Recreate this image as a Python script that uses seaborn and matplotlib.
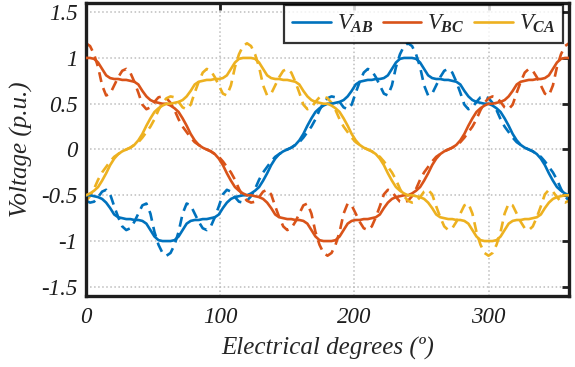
import numpy as np
import pandas as pd
import matplotlib
matplotlib.use('Agg')
import matplotlib.pyplot as plt
import seaborn as sns

# sample positions (electrical degrees, 3 deg step)
degrees = np.arange(0, 361, 3)

# filtered (solid) line voltages
vab_filtered = [
    -0.50, -0.50, -0.51, -0.52, -0.54, -0.58, -0.64, -0.71, -0.74, -0.75,
    -0.76, -0.76, -0.77, -0.77, -0.78, -0.81, -0.88, -0.95, -0.99, -1.00,
    -1.00, -1.00, -0.99, -0.95, -0.88, -0.81, -0.78, -0.77, -0.77, -0.76,
    -0.76, -0.75, -0.74, -0.71, -0.64, -0.58, -0.54, -0.52, -0.51, -0.50,
    -0.50, -0.48, -0.45, -0.41, -0.34, -0.26, -0.17, -0.10, -0.05, -0.02,
    0.00, 0.02, 0.05, 0.10, 0.17, 0.26, 0.34, 0.41, 0.45, 0.48,
    0.50, 0.50, 0.51, 0.52, 0.54, 0.58, 0.64, 0.71, 0.74, 0.75,
    0.76, 0.76, 0.77, 0.77, 0.78, 0.81, 0.88, 0.95, 0.99, 1.00,
    1.00, 1.00, 0.99, 0.95, 0.88, 0.81, 0.78, 0.77, 0.77, 0.76,
    0.76, 0.75, 0.74, 0.71, 0.64, 0.58, 0.54, 0.52, 0.51, 0.50,
    0.50, 0.48, 0.45, 0.41, 0.34, 0.26, 0.17, 0.10, 0.05, 0.02,
    0.00, -0.02, -0.05, -0.10, -0.17, -0.26, -0.34, -0.41, -0.45, -0.48,
    -0.50]
vbc_filtered = [
    1.00, 1.00, 0.99, 0.95, 0.88, 0.81, 0.78, 0.77, 0.77, 0.76,
    0.76, 0.75, 0.74, 0.71, 0.64, 0.58, 0.54, 0.52, 0.51, 0.50,
    0.50, 0.48, 0.45, 0.41, 0.34, 0.26, 0.17, 0.10, 0.05, 0.02,
    0.00, -0.02, -0.05, -0.10, -0.17, -0.26, -0.34, -0.41, -0.45, -0.48,
    -0.50, -0.50, -0.51, -0.52, -0.54, -0.58, -0.64, -0.71, -0.74, -0.75,
    -0.76, -0.76, -0.77, -0.77, -0.78, -0.81, -0.88, -0.95, -0.99, -1.00,
    -1.00, -1.00, -0.99, -0.95, -0.88, -0.81, -0.78, -0.77, -0.77, -0.76,
    -0.76, -0.75, -0.74, -0.71, -0.64, -0.58, -0.54, -0.52, -0.51, -0.50,
    -0.50, -0.48, -0.45, -0.41, -0.34, -0.26, -0.17, -0.10, -0.05, -0.02,
    0.00, 0.02, 0.05, 0.10, 0.17, 0.26, 0.34, 0.41, 0.45, 0.48,
    0.50, 0.50, 0.51, 0.52, 0.54, 0.58, 0.64, 0.71, 0.74, 0.75,
    0.76, 0.76, 0.77, 0.77, 0.78, 0.81, 0.88, 0.95, 0.99, 1.00,
    1.00]
vca_filtered = [
    -0.50, -0.48, -0.45, -0.41, -0.34, -0.26, -0.17, -0.10, -0.05, -0.02,
    0.00, 0.02, 0.05, 0.10, 0.17, 0.26, 0.34, 0.41, 0.45, 0.48,
    0.50, 0.50, 0.51, 0.52, 0.54, 0.58, 0.64, 0.71, 0.74, 0.75,
    0.76, 0.76, 0.77, 0.77, 0.78, 0.81, 0.88, 0.95, 0.99, 1.00,
    1.00, 1.00, 0.99, 0.95, 0.88, 0.81, 0.78, 0.77, 0.77, 0.76,
    0.76, 0.75, 0.74, 0.71, 0.64, 0.58, 0.54, 0.52, 0.51, 0.50,
    0.50, 0.48, 0.45, 0.41, 0.34, 0.26, 0.17, 0.10, 0.05, 0.02,
    0.00, -0.02, -0.05, -0.10, -0.17, -0.26, -0.34, -0.41, -0.45, -0.48,
    -0.50, -0.50, -0.51, -0.52, -0.54, -0.58, -0.64, -0.71, -0.74, -0.75,
    -0.76, -0.76, -0.77, -0.77, -0.78, -0.81, -0.88, -0.95, -0.99, -1.00,
    -1.00, -1.00, -0.99, -0.95, -0.88, -0.81, -0.78, -0.77, -0.77, -0.76,
    -0.76, -0.75, -0.74, -0.71, -0.64, -0.58, -0.54, -0.52, -0.51, -0.50,
    -0.50]

# unfiltered (dashed) line voltages
vab_raw = [
    -0.56, -0.58, -0.57, -0.52, -0.46, -0.44, -0.49, -0.62, -0.74, -0.84,
    -0.88, -0.86, -0.79, -0.70, -0.61, -0.59, -0.70, -0.90, -1.04, -1.13,
    -1.16, -1.13, -1.04, -0.90, -0.70, -0.59, -0.61, -0.70, -0.79, -0.86,
    -0.88, -0.84, -0.74, -0.62, -0.49, -0.44, -0.46, -0.52, -0.57, -0.58,
    -0.56, -0.51, -0.43, -0.33, -0.25, -0.19, -0.13, -0.08, -0.05, -0.02,
    0.00, 0.02, 0.05, 0.08, 0.13, 0.19, 0.25, 0.33, 0.43, 0.51,
    0.56, 0.58, 0.57, 0.52, 0.46, 0.44, 0.49, 0.62, 0.74, 0.84,
    0.88, 0.86, 0.79, 0.70, 0.61, 0.59, 0.70, 0.90, 1.04, 1.13,
    1.16, 1.13, 1.04, 0.90, 0.70, 0.59, 0.61, 0.70, 0.79, 0.86,
    0.88, 0.84, 0.74, 0.62, 0.49, 0.44, 0.46, 0.52, 0.57, 0.58,
    0.56, 0.51, 0.43, 0.33, 0.25, 0.19, 0.13, 0.08, 0.05, 0.02,
    0.00, -0.02, -0.05, -0.08, -0.13, -0.19, -0.25, -0.33, -0.43, -0.51,
    -0.56]
vbc_raw = [
    1.16, 1.13, 1.04, 0.90, 0.70, 0.59, 0.61, 0.70, 0.79, 0.86,
    0.88, 0.84, 0.74, 0.62, 0.49, 0.44, 0.46, 0.52, 0.57, 0.58,
    0.56, 0.51, 0.43, 0.33, 0.25, 0.19, 0.13, 0.08, 0.05, 0.02,
    0.00, -0.02, -0.05, -0.08, -0.13, -0.19, -0.25, -0.33, -0.43, -0.51,
    -0.56, -0.58, -0.57, -0.52, -0.46, -0.44, -0.49, -0.62, -0.74, -0.84,
    -0.88, -0.86, -0.79, -0.70, -0.61, -0.59, -0.70, -0.90, -1.04, -1.13,
    -1.16, -1.13, -1.04, -0.90, -0.70, -0.59, -0.61, -0.70, -0.79, -0.86,
    -0.88, -0.84, -0.74, -0.62, -0.49, -0.44, -0.46, -0.52, -0.57, -0.58,
    -0.56, -0.51, -0.43, -0.33, -0.25, -0.19, -0.13, -0.08, -0.05, -0.02,
    0.00, 0.02, 0.05, 0.08, 0.13, 0.19, 0.25, 0.33, 0.43, 0.51,
    0.56, 0.58, 0.57, 0.52, 0.46, 0.44, 0.49, 0.62, 0.74, 0.84,
    0.88, 0.86, 0.79, 0.70, 0.61, 0.59, 0.70, 0.90, 1.04, 1.13,
    1.16]
vca_raw = [
    -0.56, -0.51, -0.43, -0.33, -0.25, -0.19, -0.13, -0.08, -0.05, -0.02,
    0.00, 0.02, 0.05, 0.08, 0.13, 0.19, 0.25, 0.33, 0.43, 0.51,
    0.56, 0.58, 0.57, 0.52, 0.46, 0.44, 0.49, 0.62, 0.74, 0.84,
    0.88, 0.86, 0.79, 0.70, 0.61, 0.59, 0.70, 0.90, 1.04, 1.13,
    1.16, 1.13, 1.04, 0.90, 0.70, 0.59, 0.61, 0.70, 0.79, 0.86,
    0.88, 0.84, 0.74, 0.62, 0.49, 0.44, 0.46, 0.52, 0.57, 0.58,
    0.56, 0.51, 0.43, 0.33, 0.25, 0.19, 0.13, 0.08, 0.05, 0.02,
    0.00, -0.02, -0.05, -0.08, -0.13, -0.19, -0.25, -0.33, -0.43, -0.51,
    -0.56, -0.58, -0.57, -0.52, -0.46, -0.44, -0.49, -0.62, -0.74, -0.84,
    -0.88, -0.86, -0.79, -0.70, -0.61, -0.59, -0.70, -0.90, -1.04, -1.13,
    -1.16, -1.13, -1.04, -0.90, -0.70, -0.59, -0.61, -0.70, -0.79, -0.86,
    -0.88, -0.84, -0.74, -0.62, -0.49, -0.44, -0.46, -0.52, -0.57, -0.58,
    -0.56]

phase_labels = [r'$\mathit{V}_{\mathbf{AB}}$', r'$\mathit{V}_{\mathbf{BC}}$', r'$\mathit{V}_{\mathbf{CA}}$']
phase_colors = ['#0072BD', '#D95319', '#EDB120']
x_ticks = [0, 100, 200, 300]
y_ticks = [-1.5, -1, -0.5, 0, 0.5, 1, 1.5]
y_tick_labels = ['-1.5', '-1', '-0.5', '0', '0.5', '1', '1.5']

sns.set_style('white')
plt.rcParams['font.family'] = ['Liberation Serif', 'DejaVu Serif']
plt.rcParams['font.style'] = 'italic'
plt.rcParams['mathtext.fontset'] = 'custom'
plt.rcParams['mathtext.rm'] = 'Liberation Serif'
plt.rcParams['mathtext.it'] = 'Liberation Serif:italic'
plt.rcParams['mathtext.bf'] = 'Liberation Serif:italic:bold'

fig = plt.figure(figsize=(5.75, 3.67), dpi=100)
ax = fig.add_axes([0.1496, 0.1935, 0.8400, 0.7983])

filtered = [vab_filtered, vbc_filtered, vca_filtered]
raw = [vab_raw, vbc_raw, vca_raw]

handles = []
for vals, col in zip(raw, phase_colors):
    sns.lineplot(x=degrees, y=vals, ax=ax, color=col, linewidth=1.9,
                 dashes=False, linestyle=(0, (3.8, 2.4)), zorder=2)
for vals, col in zip(filtered, phase_colors):
    sns.lineplot(x=degrees, y=vals, ax=ax, color=col, linewidth=1.9, zorder=3)
    handles.append(ax.lines[-1])

ax.set_xlim(0, 360)
ax.set_ylim(-1.6, 1.6)
ax.set_xticks(x_ticks, [str(t) for t in x_ticks])
ax.set_yticks(y_ticks, y_tick_labels)
ax.grid(True, linestyle=':', color='#bdbdbd', linewidth=1.1)
ax.tick_params(direction='in', length=5, width=2, top=True, right=True,
               labelsize=16.5, colors='#1e1e1e')
ax.tick_params(axis='x', pad=8)
ax.tick_params(axis='y', pad=6)
for sp in ax.spines.values():
    sp.set_linewidth(2.4)
    sp.set_color('#1e1e1e')

ax.set_xlabel('Electrical degrees (º)', fontsize=18, labelpad=6, color='#262626')
ax.set_ylabel('Voltage (p.u.)', fontsize=18, labelpad=6, color='#262626')

leg = ax.legend(handles, phase_labels, ncol=3, loc='upper right',
                bbox_to_anchor=(0.988, 0.993), fontsize=16.5, frameon=True,
                fancybox=False, handlelength=1.7, handletextpad=0.25,
                columnspacing=0.4, borderpad=0.35, borderaxespad=0.0)
leg.get_frame().set_edgecolor('black')
leg.get_frame().set_linewidth(1.6)

fig.savefig('out.png', dpi=100)
